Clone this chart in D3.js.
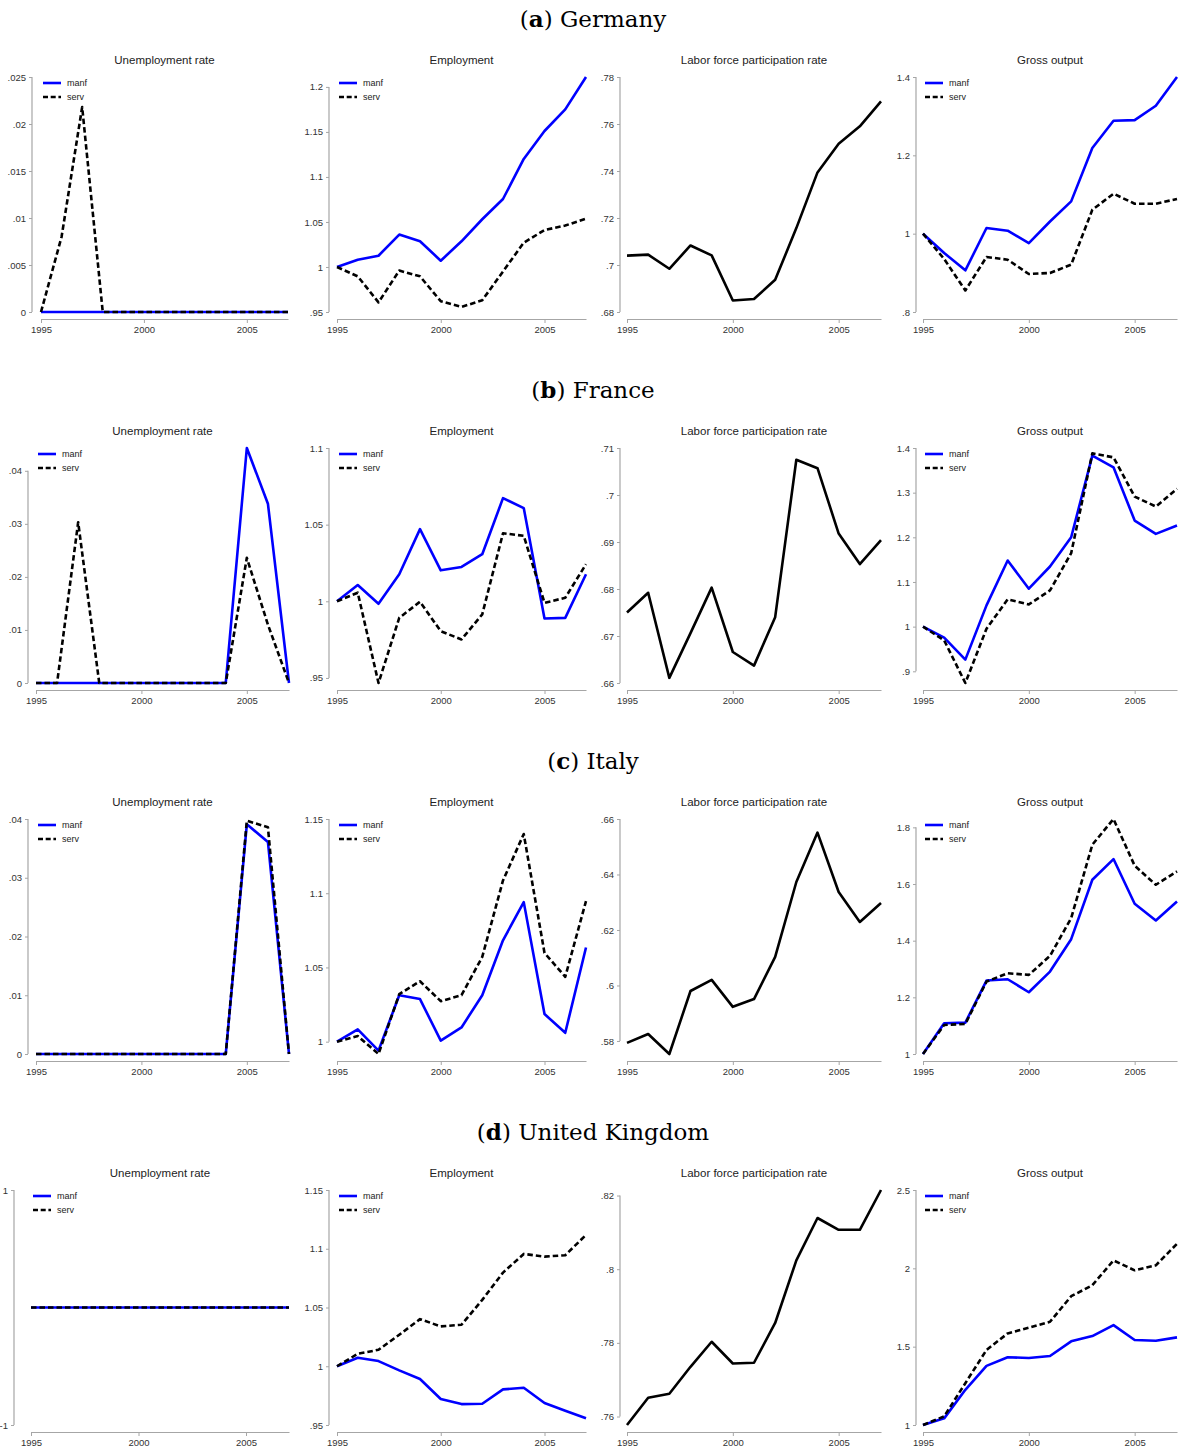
<!DOCTYPE html>
<html><head><meta charset="utf-8">
<script src="https://cdn.jsdelivr.net/npm/d3@7"></script>
<style>body{margin:0;background:#fff} svg{display:block}</style>
</head><body>
<svg id="c" width="1179" height="1449"></svg>
<script>
// ---------- DATA ----------
const years = [1995,1996,1997,1998,1999,2000,2001,2002,2003,2004,2005,2006,2007];
const xTicks = [1995,2000,2005];
const countries = ["Germany","France","Italy","United Kingdom"];
const letters = ["a","b","c","d"];
const panelTitles = ["Unemployment rate","Employment","Labor force participation rate","Gross output"];
const seriesNames = ["manf","serv"];

// Germany
const deUnempManf = [0,0,0,0,0,0,0,0,0,0,0,0,0];
const deUnempServ = [0,0.008,0.0218,0,0,0,0,0,0,0,0,0,0];
const deEmpManf = [1,1.008,1.0125,1.036,1.0285,1.007,1.0285,1.053,1.0755,1.12,1.151,1.175,1.211];
const deEmpServ = [1,0.9896,0.9607,0.996,0.9896,0.962,0.9556,0.963,0.995,1.027,1.041,1.046,1.0537];
const deLfpr = [0.704,0.7044,0.6984,0.7083,0.7041,0.6849,0.6855,0.6937,0.7157,0.7394,0.7516,0.759,0.7696];
const deGoManf = [1,0.9506,0.9063,1.0144,1.0076,0.976,1.031,1.0824,1.2187,1.2884,1.29,1.3267,1.4];
const deGoServ = [1,0.9353,0.855,0.9404,0.9335,0.897,0.8996,0.9208,1.061,1.102,1.0765,1.0765,1.0885];
const deUnempTicks = [0,0.005,0.01,0.015,0.02,0.025];
const deEmpTicks = [0.95,1,1.05,1.1,1.15,1.2];
const deLfprTicks = [0.68,0.7,0.72,0.74,0.76,0.78];
const deGoTicks = [0.8,1,1.2,1.4];

// France
const frUnempManf = [0,0,0,0,0,0,0,0,0,0,0.0443,0.0338,0];
const frUnempServ = [0,0,0.0303,0,0,0,0,0,0,0,0.0236,0.011,0];
const frEmpManf = [1,1.0106,0.9984,1.0176,1.0471,1.0202,1.0224,1.0307,1.0673,1.0608,0.9888,0.9892,1.0176];
const frEmpServ = [1,1.0056,0.9467,0.9892,0.9997,0.9805,0.9751,0.9915,1.0444,1.0427,0.999,1.0023,1.0242];
const frLfpr = [0.675,0.6792,0.6611,0.6706,0.6803,0.6666,0.6637,0.674,0.7075,0.7057,0.6918,0.6853,0.6904];
const frGoManf = [1,0.9753,0.9262,1.0476,1.1481,1.0849,1.1347,1.2002,1.3829,1.3567,1.2376,1.2078,1.2264];
const frGoServ = [1,0.9693,0.8738,0.9954,1.061,1.0498,1.0811,1.1645,1.388,1.379,1.2912,1.2689,1.3085];
const frUnempTicks = [0,0.01,0.02,0.03,0.04];
const frEmpTicks = [0.95,1,1.05,1.1];
const frLfprTicks = [0.66,0.67,0.68,0.69,0.7,0.71];
const frGoTicks = [0.9,1,1.1,1.2,1.3,1.4];

// Italy
const itUnempManf = [0,0,0,0,0,0,0,0,0,0,0.0391,0.0361,0];
const itUnempServ = [0,0,0,0,0,0,0,0,0,0,0.0397,0.0386,0];
const itEmpManf = [1,1.0083,0.994,1.0313,1.0287,1.0007,1.0096,1.0313,1.0683,1.094,1.0186,1.006,1.0634];
const itEmpServ = [1,1.0038,0.9917,1.032,1.0407,1.0273,1.0313,1.0571,1.1086,1.1399,1.0598,1.0437,1.0947];
const itLfpr = [0.5793,0.5825,0.5753,0.598,0.602,0.5923,0.5951,0.6103,0.6373,0.6551,0.6337,0.6229,0.6297];
const itGoManf = [1,1.1084,1.1108,1.2592,1.2639,1.218,1.291,1.4053,1.615,1.6881,1.5302,1.4713,1.5385];
const itGoServ = [1,1.1025,1.106,1.2557,1.2851,1.2793,1.3464,1.4796,1.7388,1.8295,1.6645,1.5974,1.6445];
const itUnempTicks = [0,0.01,0.02,0.03,0.04];
const itEmpTicks = [1,1.05,1.1,1.15];
const itLfprTicks = [0.58,0.6,0.62,0.64,0.66];
const itGoTicks = [1,1.2,1.4,1.6,1.8];

// United Kingdom
const ukUnempManf = [0,0,0,0,0,0,0,0,0,0,0,0,0];
const ukUnempServ = [0,0,0,0,0,0,0,0,0,0,0,0,0];
const ukEmpManf = [1,1.0072,1.0044,0.9965,0.9891,0.9721,0.9678,0.9681,0.9803,0.9817,0.9687,0.9622,0.9557];
const ukEmpServ = [1,1.0106,1.014,1.0268,1.0401,1.0339,1.0353,1.0565,1.0797,1.0956,1.0933,1.0945,1.1118];
const ukLfpr = [0.7577,0.7651,0.7662,0.7735,0.7803,0.7744,0.7746,0.7854,0.8024,0.8139,0.8107,0.8107,0.8215];
const ukGoManf = [1,1.0424,1.2246,1.3771,1.4322,1.428,1.4407,1.5339,1.5678,1.6377,1.5424,1.5381,1.5593];
const ukGoServ = [1,1.0551,1.2669,1.4788,1.5847,1.6208,1.6589,1.822,1.892,2.0508,1.9873,2.0191,2.1568];
const ukUnempTicks = [-1,1];
const ukEmpTicks = [0.95,1,1.05,1.1,1.15];
const ukLfprTicks = [0.76,0.78,0.8,0.82];
const ukGoTicks = [1,1.5,2,2.5];

// ---------- TABLE ----------
const table = [
  [[deUnempManf,deUnempServ,deUnempTicks],[deEmpManf,deEmpServ,deEmpTicks],[deLfpr,null,deLfprTicks],[deGoManf,deGoServ,deGoTicks]],
  [[frUnempManf,frUnempServ,frUnempTicks],[frEmpManf,frEmpServ,frEmpTicks],[frLfpr,null,frLfprTicks],[frGoManf,frGoServ,frGoTicks]],
  [[itUnempManf,itUnempServ,itUnempTicks],[itEmpManf,itEmpServ,itEmpTicks],[itLfpr,null,itLfprTicks],[itGoManf,itGoServ,itGoTicks]],
  [[ukUnempManf,ukUnempServ,ukUnempTicks],[ukEmpManf,ukEmpServ,ukEmpTicks],[ukLfpr,null,ukLfprTicks],[ukGoManf,ukGoServ,ukGoTicks]]
];

// ---------- LAYOUT ----------
const rowStep = 371, plotTop0 = 77, plotH = 235;
const col0Layout = [{ax:32,x0:41,x1:288},{ax:28,x0:36,x1:289},{ax:28,x0:36,x1:289},{ax:14,x0:31,x1:289}];
const colLayout = [null,{ax:329,x0:337,x1:586},{ax:620,x0:627,x1:881},{ax:916,x0:923,x1:1177}];
const SANS = "'Liberation Sans', Arial, Helvetica, sans-serif";
const fmt = d => { let s = String(+(+d).toFixed(4)); return s.replace(/^(-?)0\./, "$1."); };

const svg = d3.select("#c");

countries.forEach((country, r) => {
  const top = plotTop0 + rowStep * r, bottom = top + plotH;
  // row title
  const t = svg.append("text").attr("x", 593).attr("y", top - 50)
    .attr("text-anchor","middle").attr("font-family","'DejaVu Serif', 'Liberation Serif', serif")
    .attr("font-size", 23).attr("fill","#000");
  t.append("tspan").text("(");
  t.append("tspan").attr("font-weight","bold").text(letters[r]);
  t.append("tspan").text(") " + country);

  table[r].forEach((cell, c) => {
    const L = c === 0 ? col0Layout[r] : colLayout[c];
    const [s1, s2, ticks] = cell;
    const all = ticks.concat(s1, s2 || []);
    const y = d3.scaleLinear().domain([d3.min(all), d3.max(all)]).range([bottom, top]);
    const x = d3.scaleLinear().domain([years[0], years[years.length-1]]).range([L.x0, L.x1]);
    const g = svg.append("g");

    // panel title
    g.append("text").attr("x", (L.x0 + L.x1) / 2).attr("y", top - 13)
      .attr("text-anchor","middle").attr("font-family", SANS).attr("font-size", 11.5)
      .attr("fill","#222").text(panelTitles[c]);

    // y axis
    const ya = g.append("g").attr("transform", `translate(${L.ax},0)`)
      .call(d3.axisLeft(y).tickValues(ticks).tickSize(3).tickSizeOuter(0).tickPadding(3).tickFormat(fmt));
    ya.select(".domain").remove();
    ya.append("line").attr("x1",0).attr("x2",0)
      .attr("y1", y(d3.max(ticks))).attr("y2", y(d3.min(ticks)))
      .attr("stroke","#a6a6a6").attr("stroke-width",1.2);
    ya.selectAll(".tick line").attr("stroke","#a6a6a6");
    ya.selectAll(".tick text").attr("font-family", SANS).attr("font-size", 9.5).attr("fill","#333");

    // x axis
    const xa = g.append("g").attr("transform", `translate(0,${bottom + 7})`)
      .call(d3.axisBottom(x).tickValues(xTicks).tickSize(4).tickSizeOuter(0).tickPadding(3).tickFormat(d3.format("d")));
    xa.select(".domain").attr("stroke","#a6a6a6").attr("stroke-width",1.2);
    xa.selectAll(".tick line").attr("stroke","#a6a6a6");
    xa.selectAll(".tick text").attr("font-family", SANS).attr("font-size", 9.5).attr("fill","#333");

    const line = d3.line().x((d,i) => x(years[i])).y(d => y(d));
    if (s2) {
      g.append("path").datum(s1).attr("d", line).attr("fill","none")
        .attr("stroke","#0000ff").attr("stroke-width",2.6).attr("stroke-linejoin","round");
      g.append("path").datum(s2).attr("d", line).attr("fill","none")
        .attr("stroke","#000").attr("stroke-width",2.6).attr("stroke-dasharray","5.5,3").attr("stroke-linejoin","round");
      // legend
      const lg = g.append("g");
      seriesNames.forEach((nm, k) => {
        const ly = top + 6 + 14 * k;
        lg.append("line").attr("x1", L.x0 + 2).attr("x2", L.x0 + 20).attr("y1", ly).attr("y2", ly)
          .attr("stroke", k === 0 ? "#0000ff" : "#000").attr("stroke-width", 2.6)
          .attr("stroke-dasharray", k === 0 ? null : "5,2.7");
        lg.append("text").attr("x", L.x0 + 26).attr("y", ly + 3)
          .attr("font-family", SANS).attr("font-size", 9).attr("fill","#222").text(nm);
      });
    } else {
      g.append("path").datum(s1).attr("d", line).attr("fill","none")
        .attr("stroke","#000").attr("stroke-width",2.6).attr("stroke-linejoin","round");
    }
  });
});
</script>
</body></html>
